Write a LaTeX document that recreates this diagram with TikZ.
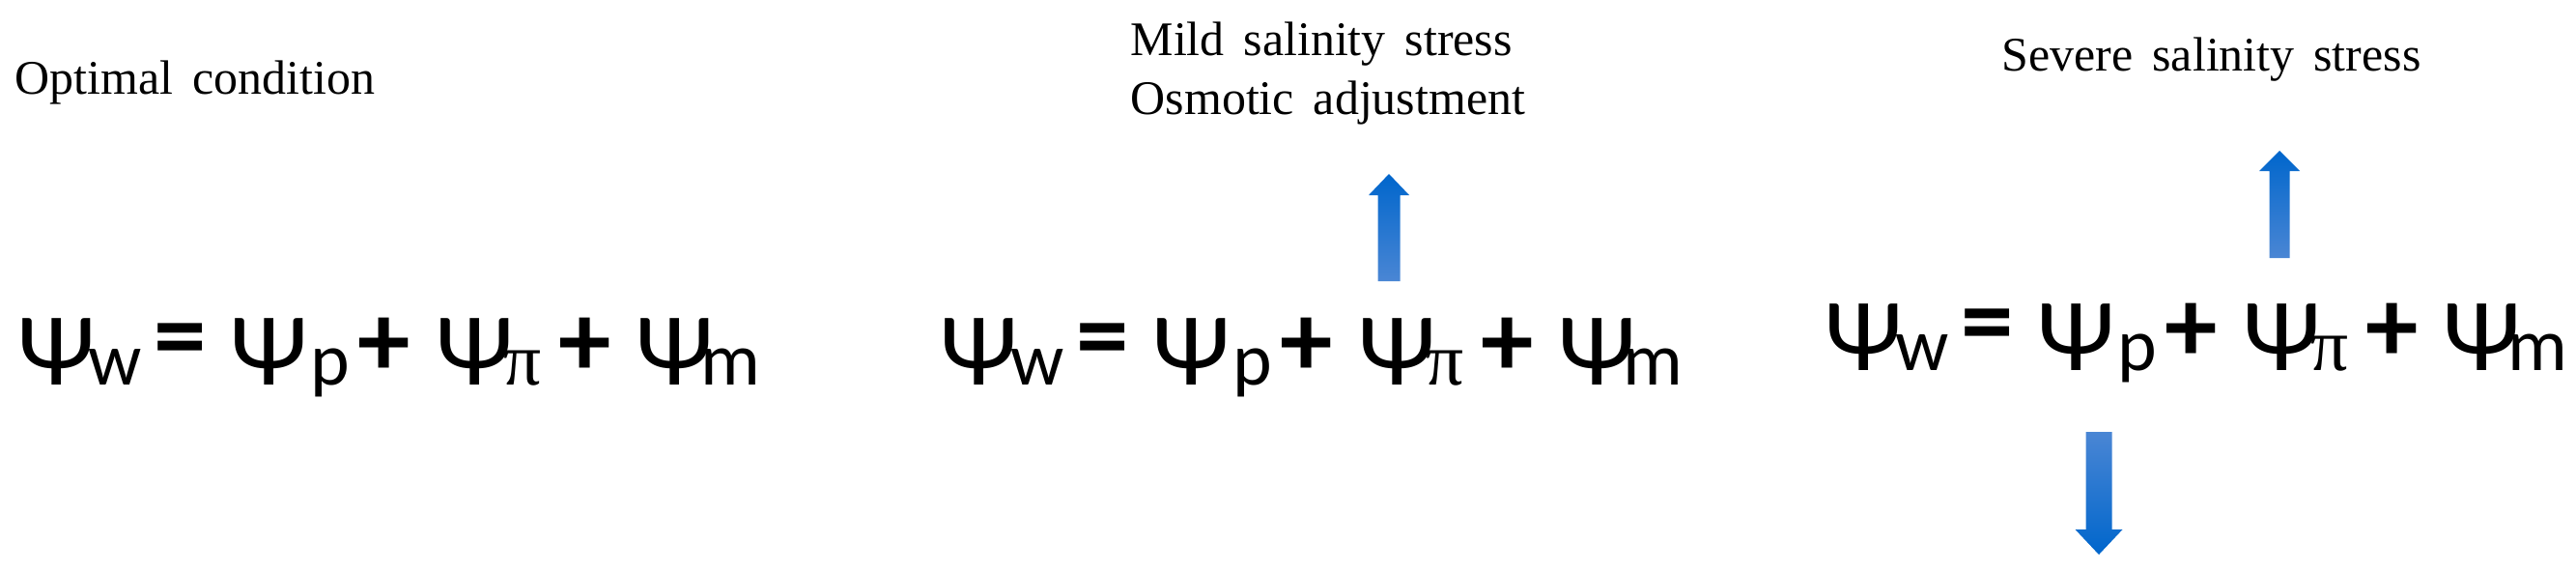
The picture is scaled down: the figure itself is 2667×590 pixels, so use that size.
\documentclass[tikz,border=0pt]{standalone}
\usepackage{fontspec}
\setmainfont{Liberation Serif}
\newfontfamily\eqfont{Carlito}
\usetikzlibrary{positioning}
\definecolor{arrowblue}{HTML}{0066CC}
\definecolor{paleblue}{HTML}{4A86D4}
\newcommand{\condfont}{\fontsize{14.2}{17}\selectfont\spaceskip 0.4em\relax}
\newcommand{\subfont}{\fontsize{22}{26}\selectfont}
\tikzset{
  condlabel/.style={font=\condfont, inner sep=0pt, anchor=base west},
  potential/.style={font=\eqfont\fontsize{30.5}{36}\selectfont, inner sep=0pt, anchor=base west},
  operator/.style={font=\eqfont\bfseries\fontsize{31}{36}\selectfont, inner sep=0pt, anchor=west},
}
\begin{document}
\begin{tikzpicture}[x=0.01cm, y=-0.01cm]
  \useasboundingbox (0,0) rectangle (2667,590);
  % condition labels
  \node[condlabel] (optimal) at (15,97) {Optimal condition};
  \node[condlabel] (mild) at (1170,57) {Mild salinity stress};
  \node[condlabel] (osmotic) at (1170,118) {Osmotic adjustment};
  \node[condlabel] (severe) at (2072,73) {Severe salinity stress};
  % water potential equations
  \foreach \eq/\x/\y in {eqopt/18/398, eqmild/973/398, eqsevere/1889/383} {
    \foreach \k/\dx/\gap/\sub in {1/0/0.73/w, 2/220/0.83/p, 3/433/0.70/{\rmfamily π}, 4/640/0.67/m}
      \node[potential] (\eq-term\k) at (\x+\dx,\y) {\makebox[\gap cm][l]{Ψ}{\subfont\sub}};
    \node[operator] (\eq-equals) at (\x+141,\y-39) {=};
    \foreach \k/\dx in {1/352, 2/560}
      \node[operator] (\eq-plus\k) at (\x+\dx,\y-39) {+};
  }
  % block arrows
  \foreach \x/\tail/\neck/\tip/\shaft/\head/\topc/\botc in {1438/291/202/180/11.5/21/arrowblue/paleblue, 2360/267/177/156/10.5/21/arrowblue/paleblue, 2173/447/548/574/13.5/24.5/paleblue/arrowblue} {
    \shade[top color=\topc, bottom color=\botc] (\x-\shaft,\tail) -- (\x-\shaft,\neck) -- (\x-\head,\neck) -- (\x,\tip) -- (\x+\head,\neck) -- (\x+\shaft,\neck) -- (\x+\shaft,\tail) -- cycle;
  }
\end{tikzpicture}
\end{document}
